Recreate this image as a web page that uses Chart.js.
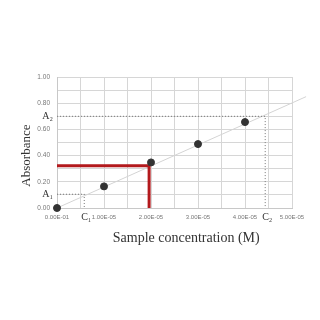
<!DOCTYPE html>
<html>
<head>
<meta charset="utf-8">
<script src="https://cdn.jsdelivr.net/npm/chart.js@4.4.1/dist/chart.umd.min.js"></script>
<style>
  html, body { margin: 0; padding: 0; background: #fff; }
  #wrap { width: 320px; height: 320px; }
</style>
</head>
<body>
<div id="wrap"><canvas id="c"></canvas></div>
<script>
// calibration points (concentration M, absorbance)
const concentrations = [0, 1.0e-5, 2.0e-5, 3.0e-5, 4.0e-5];
const absorbances = [0, 0.165, 0.348, 0.488, 0.656];

// fitted line end points (runs past the plot on the right)
const fitX = [0, 5.3e-5];
const fitY = [0, 0.85];

// unknown sample read-off (red)
const sampleX = [0, 1.96e-5, 1.96e-5];
const sampleY = [0.323, 0.323, 0];

// A1/C1 and A2/C2 guides (dotted)
const guide1X = [0, 0.58e-5, 0.58e-5];
const guide1Y = [0.105, 0.105, 0];
const guide2X = [0, 4.43e-5, 4.43e-5];
const guide2Y = [0.70, 0.70, 0];

const xTickLabels = ['0.00E-01', '1.00E-05', '2.00E-05', '3.00E-05', '4.00E-05', '5.00E-05'];
const yTickLabels = ['0.00', '0.20', '0.40', '0.60', '0.80', '1.00'];

// marker labels: [text, value]
const aLabels = [['A\u2081', 0.105], ['A\u2082', 0.70]];
const cLabels = [['C\u2081', 0.58e-5], ['C\u2082', 4.43e-5]];

const xTitle = 'Sample concentration (M)';
const yTitle = 'Absorbance';

const pts = (xs, ys) => xs.map((x, i) => ({ x, y: ys[i] }));
const serif = '"Liberation Serif", "DejaVu Serif", serif';

// A/C labels and the two axis titles (titles sit off-centre in the original)
const markerLabels = {
    id: 'markerLabels',
    afterDraw(chart) {
        const { ctx, scales: { x, y } } = chart;
        ctx.save();
        ctx.fillStyle = '#333';
        ctx.font = '10px ' + serif;
        ctx.textAlign = 'right';
        ctx.textBaseline = 'middle';
        aLabels.forEach(([t, v]) => ctx.fillText(t, x.left - 4, y.getPixelForValue(v)));
        ctx.textAlign = 'center';
        ctx.textBaseline = 'top';
        cLabels.forEach(([t, v]) => ctx.fillText(t, x.getPixelForValue(v) + 2, y.bottom + 4));

        ctx.font = '14px ' + serif;
        ctx.textBaseline = 'middle';
        ctx.fillText(xTitle, x.getPixelForValue(2.75e-5), y.bottom + 30);
        ctx.translate(27, y.getPixelForValue(0.4));
        ctx.rotate(-Math.PI / 2);
        ctx.font = '13px ' + serif;
        ctx.fillText(yTitle, 0, 0);
        ctx.restore();
    }
};

new Chart(document.getElementById('c'), {
    type: 'scatter',
    data: {
        datasets: [
            {
                data: pts(concentrations, absorbances),
                backgroundColor: '#333',
                borderColor: '#333',
                pointRadius: 3.5,
                clip: false,
            },
            {
                data: pts(sampleX, sampleY),
                showLine: true,
                borderColor: '#b3191c',
                borderWidth: 3,
                pointRadius: 0,
                clip: 0,
            },
            {
                data: pts(guide1X, guide1Y),
                showLine: true,
                borderColor: '#777',
                borderWidth: 1,
                borderDash: [1, 2],
                pointRadius: 0,
            },
            {
                data: pts(guide2X, guide2Y),
                showLine: true,
                borderColor: '#777',
                borderWidth: 1,
                borderDash: [1, 2],
                pointRadius: 0,
            },
            {
                data: pts(fitX, fitY),
                showLine: true,
                borderColor: '#d4d4d4',
                borderWidth: 1,
                pointRadius: 0,
                clip: false,
            },
        ]
    },
    options: {
        responsive: true,
        maintainAspectRatio: false,
        animation: false,
        layout: { padding: { top: 77, right: 28, left: 0, bottom: 90 } },
        plugins: { legend: { display: false }, tooltip: { enabled: false } },
        scales: {
            x: {
                type: 'linear',
                min: 0,
                max: 5e-5,
                afterFit: (s) => { s.height = 22; },
                grid: { color: '#d6d6d6', tickLength: 0 },
                border: { color: '#c8c8c8' },
                ticks: {
                    stepSize: 0.5e-5,
                    autoSkip: false,
                    maxRotation: 0,
                    color: '#777',
                    padding: 6,
                    font: { family: 'Liberation Sans, Arial, sans-serif', size: 6 },
                    callback: (v) => {
                        const k = Math.round(v / 0.5e-5);
                        return k % 2 === 0 ? xTickLabels[k / 2] : '';
                    }
                }
            },
            y: {
                min: 0,
                max: 1,
                afterFit: (s) => { s.width = 57; },
                grid: { color: '#d6d6d6', tickLength: 0 },
                border: { color: '#c8c8c8' },
                ticks: {
                    stepSize: 0.1,
                    color: '#777',
                    padding: 7,
                    font: { family: 'Liberation Sans, Arial, sans-serif', size: 6.5 },
                    callback: (v) => {
                        const k = Math.round(v * 10);
                        return k % 2 === 0 ? yTickLabels[k / 2] : '';
                    }
                }
            }
        }
    },
    plugins: [markerLabels]
});
</script>
</body>
</html>
